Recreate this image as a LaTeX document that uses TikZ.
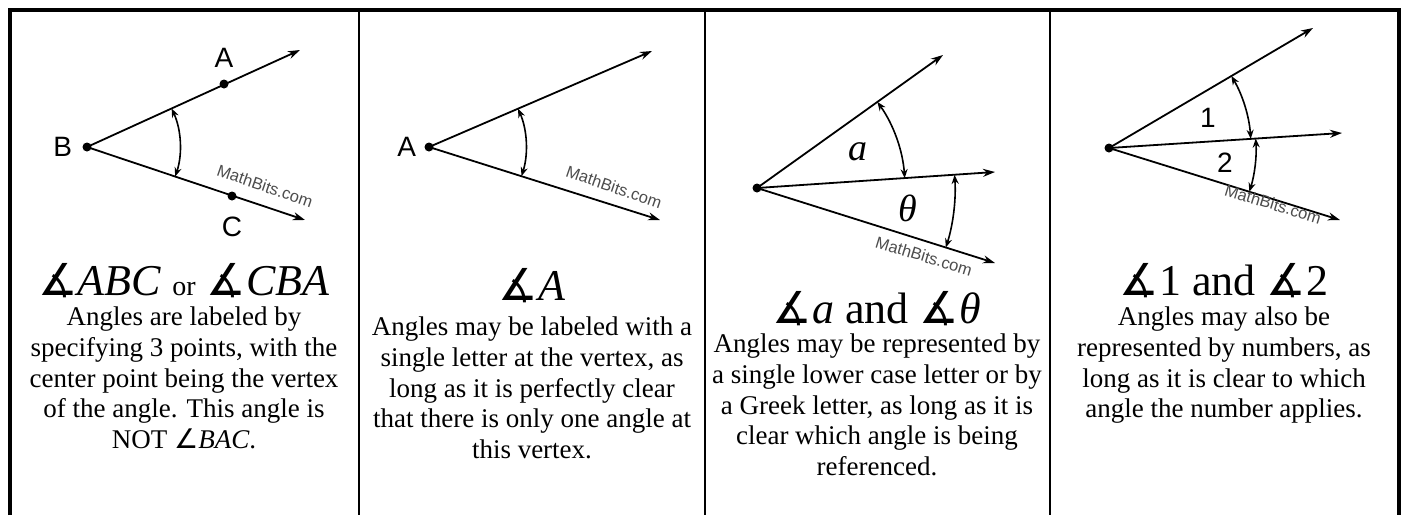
\documentclass[tikz,border=0pt]{standalone}
\usepackage{fontspec}
\setmainfont{Liberation Serif}
\newfontfamily\arialfont{Liberation Sans}
\newfontfamily\symfont{DejaVu Sans}
\usetikzlibrary{arrows.meta,positioning}

\begin{document}
\begin{tikzpicture}[x=1pt,y=1pt,
    ray/.style={line width=1.8pt,-{Stealth[length=12pt,width=8pt]}},
    turn/.style={line width=1.6pt,{Stealth[length=9pt,width=7pt]}-{Stealth[length=9pt,width=7pt]}},
    dot/.style={circle,fill,inner sep=0pt,minimum size=9pt},
    lbl/.style={font=\arialfont\fontsize{28}{28}\selectfont,inner sep=0pt},
    wmark/.style={font=\arialfont\fontsize{16.5}{16.5}\selectfont,text=black!70,inner sep=0pt},
    head/.style={font=\fontsize{44}{48}\selectfont,inner sep=0pt,anchor=base},
    blurb/.style={font=\fontsize{27}{30.8}\selectfont,align=center,inner sep=0pt,anchor=north}]
  \useasboundingbox (0,0) rectangle (1408,-515);
  % Frame
  \draw[line width=4pt] (10,-515) -- (10,-10) -- (1399,-10) -- (1399,-515);
  \foreach \x in {359,705,1050}
    \draw[line width=2.5pt] (\x,-10) -- (\x,-515);

  % Three points
  \node[dot] (B) at (87,-147) {};
  \node[dot] (A) at (224,-84) {};
  \node[dot] (C) at (232,-196) {};
  \coordinate (Bup) at (300,-50);
  \coordinate (Bdown) at (305,-220);
  \draw[ray] (B.center) -- (Bup);
  \draw[ray] (B.center) -- (Bdown);
  \draw[turn] ([shift={(24.5:93)}]B.center) arc[start angle=24.5,end angle=-18.5,radius=93];
  \node[lbl,left=10pt of B] (labB) {B};
  \node[lbl,above=12pt of A] (labA) {A};
  \node[lbl,below=16pt of C] (labC) {C};
  \node[wmark,rotate=-19] (wm1) at (265,-186) {MathBits.com};
  \node[head] (head1) at (184,-295) {{\symfont ∡}\textit{ABC} {\fontsize{28}{30}\selectfont or} {\symfont ∡}\textit{CBA}};
  \node[blurb] (text1) at (184,-306.5) {Angles are labeled by\\
    specifying 3 points, with the\\
    center point being the vertex\\
    of the angle. This angle is\\
    NOT {\symfont ∠}\textit{BAC}.};

  % Vertex letter
  \node[dot] (V2) at (429,-147) {};
  \coordinate (V2up) at (652,-51);
  \coordinate (V2down) at (660,-220);
  \draw[ray] (V2.center) -- (V2up);
  \draw[ray] (V2.center) -- (V2down);
  \draw[turn] ([shift={(23.3:97)}]V2.center) arc[start angle=23.3,end angle=-17.5,radius=97];
  \node[lbl,left=8pt of V2] (labV2) {A};
  \node[wmark,rotate=-19] (wm2) at (614,-187) {MathBits.com};
  \node[head] (head2) at (532,-300) {{\symfont ∡}\textit{A}};
  \node[blurb] (text2) at (532,-316.5) {Angles may be labeled with a\\
    single letter at the vertex, as\\
    long as it is perfectly clear\\
    that there is only one angle at\\
    this vertex.};

  % Letters a and theta
  \node[dot] (V3) at (757,-188) {};
  \coordinate (V3up) at (943,-55);
  \coordinate (V3mid) at (995,-172);
  \coordinate (V3down) at (995,-263);
  \draw[ray] (V3.center) -- (V3up);
  \draw[ray] (V3.center) -- (V3mid);
  \draw[ray] (V3.center) -- (V3down);
  \draw[turn] ([shift={(35.6:148)}]V3.center) arc[start angle=35.6,end angle=3.8,radius=148];
  \draw[turn] ([shift={(3.8:198)}]V3.center) arc[start angle=3.8,end angle=-17.5,radius=198];
  \node[font=\fontsize{38}{40}\selectfont\itshape] (laba) at (858,-152) {a};
  \node[font=\fontsize{38}{40}\selectfont\itshape] (labt) at (908,-208) {θ};
  \node[wmark,rotate=-17] (wm3) at (924,-256) {MathBits.com};
  \node[head] (head3) at (877,-323) {{\symfont ∡}\textit{a} and {\symfont ∡}\textit{θ}};
  \node[blurb] (text3) at (877,-333.5) {Angles may be represented by\\
    a single lower case letter or by\\
    a Greek letter, as long as it is\\
    clear which angle is being\\
    referenced.};

  % Numbers 1 and 2
  \node[dot] (V4) at (1109,-148) {};
  \coordinate (V4up) at (1313,-28);
  \coordinate (V4mid) at (1342,-133);
  \coordinate (V4down) at (1340,-220);
  \draw[ray] (V4.center) -- (V4up);
  \draw[ray] (V4.center) -- (V4mid);
  \draw[ray] (V4.center) -- (V4down);
  \draw[turn] ([shift={(30.5:142)}]V4.center) arc[start angle=30.5,end angle=3.7,radius=142];
  \draw[turn] ([shift={(3.7:147)}]V4.center) arc[start angle=3.7,end angle=-17.3,radius=147];
  \node[lbl] (lab1) at (1208,-118) {1};
  \node[lbl] (lab2) at (1225,-163) {2};
  \node[wmark,rotate=-17] (wm4) at (1273,-204) {MathBits.com};
  \node[head] (head4) at (1224,-295) {{\symfont ∡}1 and {\symfont ∡}2};
  \node[blurb] (text4) at (1224,-306.5) {Angles may also be\\
    represented by numbers, as\\
    long as it is clear to which\\
    angle the number applies.};
\end{tikzpicture}
\end{document}
